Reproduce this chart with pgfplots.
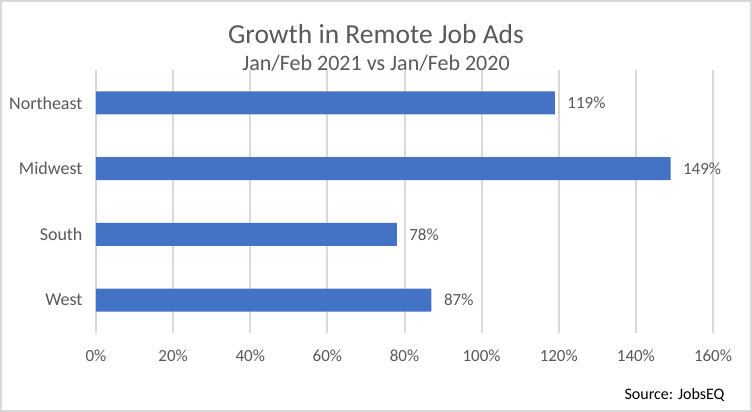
\documentclass[border=0pt]{standalone}
\usepackage{pgfplots}
\pgfplotsset{compat=1.18}
\usepackage{fontspec}
\setmainfont{Carlito}
\definecolor{barblue}{HTML}{4472C4}
\definecolor{txtgray}{HTML}{595959}
\definecolor{gridgray}{HTML}{D9D9D9}
\begin{document}
\begin{tikzpicture}[x=1pt,y=1pt]
% frame of the chart area
\fill[white] (0,0) rectangle (752,412);
\draw[gridgray, line width=2pt] (1,1) rectangle (751,411);
\node[txtgray, font=\fontsize{27.5}{32}\selectfont] at (376,378) {Growth in Remote Job Ads};
\node[txtgray, font=\fontsize{22}{26}\selectfont] at (376,349) {Jan/Feb 2021 vs Jan/Feb 2020};
\node[black, anchor=east, font=\fontsize{16}{19}\selectfont] at (728,17) {Source: JobsEQ};
\begin{axis}[
    at={(96pt,79pt)}, anchor=south west,
    scale only axis,
    width=617pt, height=263pt,
    xbar,
    bar width=23pt,
    xmin=0, xmax=160,
    ymin=-0.5, ymax=3.5,
    xtick={0,20,...,160},
    ytick={0,1,2,3},
    yticklabels={West,South,Midwest,Northeast},
    xticklabel={\pgfmathprintnumber{\tick}\%},
    /pgf/number format/assume math mode=true,
    axis line style={draw=none},
    major tick length=0pt,
    xmajorgrids,
    grid style={gridgray, line width=2pt},
    ticklabel style={txtgray, font=\fontsize{17}{20}\selectfont},
    xticklabel style={yshift=-13pt},
    yticklabel style={xshift=-10pt, font=\fontsize{18}{21}\selectfont},
    nodes near coords={\pgfmathprintnumber{\pgfplotspointmeta}\%},
    nodes near coords style={txtgray, font=\fontsize{17}{20}\selectfont, anchor=west, xshift=9pt},
    point meta=explicit,
]
\addplot[fill=barblue, draw=none] coordinates {
    (87,0) [87]
    (78,1) [78]
    (149,2) [149]
    (119,3) [119]
};
\end{axis}
\end{tikzpicture}
\end{document}
